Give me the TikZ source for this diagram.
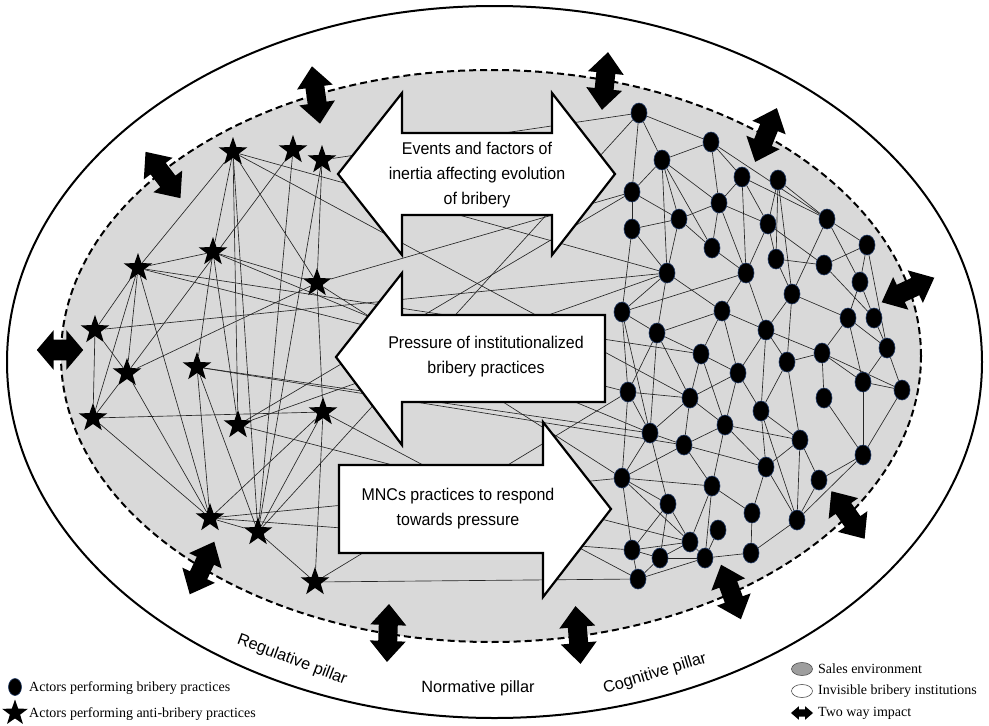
\documentclass[tikz,border=0pt]{standalone}
\usepackage{fontspec}
\setmainfont{Liberation Serif}
\newfontfamily\labelfont[FakeStretch=0.94]{Liberation Sans}
\newfontfamily\pillarfont{Liberation Sans}
\usetikzlibrary{shapes.geometric}
\definecolor{salesgray}{RGB}{217,217,217}
\definecolor{dotrim}{RGB}{31,56,100}
\pgfdeclarelayer{bg}
\pgfdeclarelayer{edges}
\pgfdeclarelayer{arrows}
\pgfsetlayers{bg,edges,arrows,main}
\begin{document}
\begin{tikzpicture}[x=1pt,y=-1pt,
  actor/.style={ellipse,fill=black,draw=dotrim,line width=0.6pt,minimum width=16pt,minimum height=20pt,inner sep=0pt},
  anti/.style={star,star points=5,star point ratio=2.5,fill=black,minimum size=30pt,inner sep=0pt},
  link/.style={line width=0.65pt,black!85},
  bigarrow/.style={fill=white,draw=black,line width=2.2pt,line join=miter},
  caption/.style={font=\labelfont\fontsize{17}{25}\selectfont,align=center},
  pillar/.style={font=\pillarfont\fontsize{16.3}{19}\selectfont,inner sep=0pt},
  legend/.style={font=\fontsize{14}{17}\selectfont,anchor=west,inner sep=0pt},
  pics/twoway/.style={code={
    \fill[black] (-29,0) -- (-8,-18) -- (-8,-9.5) -- (8,-9.5) -- (8,-18) -- (29,0)
      -- (8,18) -- (8,9.5) -- (-8,9.5) -- (-8,18) -- cycle;}}
]
\useasboundingbox (0,0) rectangle (989,726);

% institutions and sales environment
\begin{pgfonlayer}{bg}
  \draw[line width=2pt] (494.5,362) ellipse [x radius=487.5pt, y radius=356pt];
  \filldraw[fill=salesgray, draw=black, line width=2pt, dash pattern=on 7pt off 4pt]
    (491,356) ellipse [x radius=430pt, y radius=286pt];
\end{pgfonlayer}

% anti-bribery actors
\foreach \n/\px/\py in {1/233/152, 2/293/150, 3/322/160, 4/213/252, 5/138/268,
  6/317/283, 7/95/330, 8/127/373, 9/197/367, 10/93/418, 11/238/425, 12/323/412,
  13/210/518, 14/258/532, 15/315/582}
  \node[anti] (s\n) at (\px,\py) {};

% bribery actors
\foreach \n/\px/\py in {1/639/113, 2/711/142, 3/662/160, 4/742/177, 5/778/180,
  6/632/192, 7/719/203, 8/679/219, 9/768/224, 10/827/219, 11/632/229, 12/712/248,
  13/776/259, 14/824/265, 15/867/245, 16/667/273, 17/746/273, 18/860/282,
  19/622/312, 20/722/311, 21/792/294, 22/848/318, 23/874/318, 24/657/333,
  25/766/330, 26/887/348, 27/701/354, 28/787/362, 29/822/353, 30/738/373,
  31/863/382, 32/902/390, 33/628/392, 34/690/398, 35/824/398, 36/761/411,
  37/725/425, 38/650/433, 39/684/445, 40/800/440, 41/863/455, 42/766/467,
  43/622/478, 44/712/486, 45/819/480, 46/668/504, 47/752/513, 48/797/520,
  49/718/530, 50/690/542, 51/632/550, 52/660/558, 53/705/558, 54/751/553,
  55/638/579}
  \node[actor] (d\n) at (\px,\py) {};

% ties between actors
\begin{pgfonlayer}{edges}
  \foreach \a/\b in {s1/s5, s1/s4, s1/s6, s1/s11, s1/s14, s2/s8, s2/s14,
    s3/s6, s3/s14, s4/s5, s4/s6, s4/s9, s4/s11, s5/s8, s5/s10, s5/s13, s5/s7,
    s6/s8, s6/s12, s7/s10, s7/s8, s8/s10, s8/s13, s9/s13, s9/s14, s10/s12,
    s10/s13, s12/s15, s12/s13, s12/s14, s13/s14, s14/s15,
    s1/d16, s1/d34, s3/d1, s14/d1, s6/d6, s11/d6, s11/d16, s4/d38, s5/d33,
    s5/d27, s7/d16, s9/d39, s9/d38, s6/d43, s13/d43, s13/d51, s11/d50,
    s12/d55, s15/d55, s15/d33}
    \draw[link] (\a) -- (\b);
  \foreach \a/\b in {1/2, 1/3, 1/6, 2/3, 2/7, 2/4, 2/10, 3/6, 3/8, 3/7, 3/12, 3/16,
    4/7, 4/9, 4/17, 4/10, 5/9, 5/21, 5/10, 5/13, 6/11, 6/8, 7/8, 7/9, 7/12, 7/17,
    8/11, 8/12, 8/16, 9/13, 9/17, 9/14, 10/21, 10/15, 10/18, 11/16, 11/19, 12/17,
    13/14, 13/21, 14/15, 14/23, 15/18, 15/26, 16/19, 16/24, 16/20, 17/19, 17/20,
    17/25, 18/22, 18/23, 19/24, 19/33, 19/38, 20/24, 20/27, 20/30, 20/25, 21/25,
    21/22, 21/28, 22/29, 22/31, 22/26, 23/26, 24/27, 24/33, 24/34, 24/38, 25/28,
    25/30, 25/36, 25/29, 26/31, 26/32, 27/30, 27/34, 27/37, 28/29, 28/36, 28/40,
    29/35, 29/31, 29/32, 30/34, 30/36, 30/37, 31/32, 31/41, 32/41, 33/34, 33/38,
    33/43, 34/38, 34/37, 34/39, 35/41, 36/42, 36/40, 36/48, 37/44, 37/40, 37/42,
    37/39, 38/43, 38/39, 38/46, 39/44, 39/43, 39/42, 40/42, 40/45, 40/48, 41/45,
    41/48, 42/47, 42/48, 43/44, 43/46, 43/50, 43/51, 44/47, 44/50, 44/53, 45/48,
    46/50, 46/51, 46/52, 47/54, 48/54, 49/53, 50/51, 50/52, 50/53, 51/52, 51/55,
    52/55, 52/53, 53/54, 53/55}
    \draw[link] (d\a) -- (d\b);
\end{pgfonlayer}

% the three processes
\begin{pgfonlayer}{arrows}
  \draw[bigarrow] (338,174) -- (402,93) -- (402,133) -- (552,133) -- (552,93)
    -- (615,174) -- (552,255) -- (552,215) -- (402,215) -- (402,255) -- cycle;
  \draw[bigarrow] (336,357) -- (402,273) -- (402,315) -- (605,315) -- (605,402)
    -- (402,402) -- (402,445) -- cycle;
  \draw[bigarrow] (339,465) -- (543,465) -- (543,422) -- (611,509) -- (543,597)
    -- (543,553) -- (339,553) -- cycle;
\end{pgfonlayer}
\node[caption] (inertia) at (477,175) {Events and factors of\\inertia affecting evolution\\of bribery};
\node[caption] (pressure) at (486,357) {Pressure of institutionalized\\bribery practices};
\node[caption] (response) at (458,509) {MNCs practices to respond\\towards pressure};

% two way impacts across the boundary
\pic[rotate=84] at (605,81) {twoway};
\pic[rotate=98] at (316,95) {twoway};
\pic[rotate=127] at (163,175) {twoway};
\pic[xscale=0.8,yscale=1.1] at (60,350) {twoway};
\pic[rotate=68] at (766,135) {twoway};
\pic[rotate=25] at (908,290) {twoway};
\pic[rotate=-55] at (848,515) {twoway};
\pic[rotate=-70] at (731,592) {twoway};
\pic[rotate=-85] at (578,635) {twoway};
\pic[rotate=88] at (388,633) {twoway};
\pic[rotate=65] at (202,568) {twoway};

% pillars
\node[pillar,rotate=-20.7] (regulative) at (292,660) {Regulative pillar};
\node[pillar] (normative) at (478,688) {Normative pillar};
\node[pillar,rotate=17] (cognitive) at (655,674) {Cognitive pillar};

% legend
\node[actor,minimum width=13pt,minimum height=17pt] (legdot) at (15,687) {};
\node[legend] (legdottext) at (29,688) {Actors performing bribery practices};
\node[anti,minimum size=27pt] (legstar) at (15,713) {};
\node[legend] (legstartext) at (29,714) {Actors performing anti-bribery practices};
\node[ellipse,fill=black!38,draw=black!70,line width=0.6pt,minimum width=21pt,minimum height=13pt,inner sep=0pt] (legsales) at (802,669) {};
\node[legend] (legsalestext) at (818,669) {Sales environment};
\node[ellipse,fill=white,draw=black!70,line width=0.6pt,minimum width=21pt,minimum height=13pt,inner sep=0pt] (leginst) at (802,691) {};
\node[legend] (leginsttext) at (818,691) {Invisible bribery institutions};
\pic[scale=0.38] at (802,713) {twoway};
\node[legend] (legimpacttext) at (818,713) {Two way impact};
\end{tikzpicture}
\end{document}
